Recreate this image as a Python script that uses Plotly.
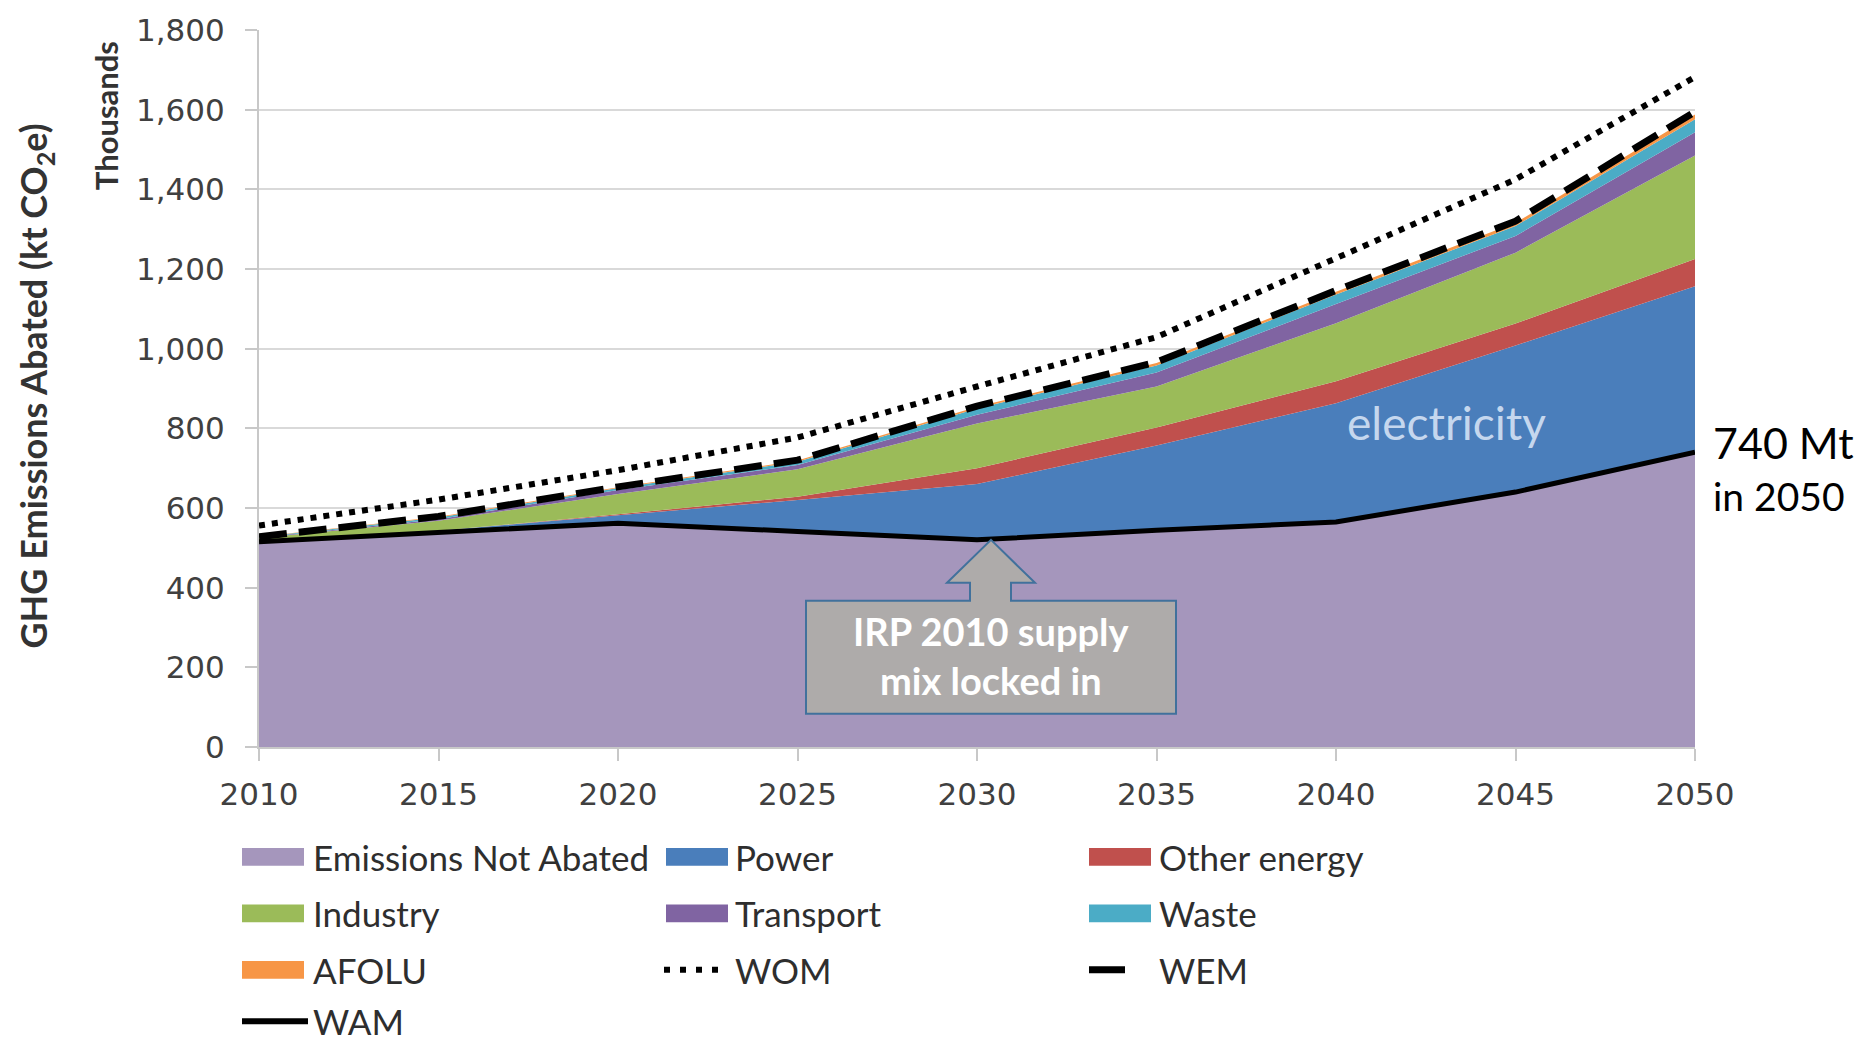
import plotly.graph_objects as go

# ---- data (kt CO2e, thousands) ----
years = [2010, 2015, 2020, 2025, 2030, 2035, 2040, 2045, 2050]

not_abated = [515, 540, 562, 541, 520, 544, 565, 640, 740]
power = [2, 3, 20, 79, 140, 213, 298, 368, 417]
other_energy = [0, 0, 2, 8, 40, 45, 55, 55, 68]
industry = [8, 25, 51, 69, 112, 103, 146, 178, 260]
transport = [1, 4, 10, 11, 22, 35, 48, 42, 58]
waste = [1, 4, 5, 8, 16, 18, 24, 25, 33]
afolu = [1, 2, 2, 3, 4, 6, 7, 8, 12]

wom = [556, 621, 695, 777, 905, 1029, 1227, 1425, 1682]
wem = [528, 579, 653, 720, 856, 966, 1146, 1320, 1595]
wam = not_abated

y_ticks = [0, 200, 400, 600, 800, 1000, 1200, 1400, 1600, 1800]
x_ticks = years

area_series = [
    ("Emissions Not Abated", not_abated, "#A596BC"),
    ("Power", power, "#4A7EBB"),
    ("Other energy", other_energy, "#C0504D"),
    ("Industry", industry, "#9BBB59"),
    ("Transport", transport, "#8064A2"),
    ("Waste", waste, "#4BACC6"),
    ("AFOLU", afolu, "#F79646"),
]

# plot-area geometry in pixels
W, H = 1866, 1043
PL, PR, PT, PB = 259, 1695, 23, 747


def px(x):
    return (x - PL) / (PR - PL)


def py(y):
    return (PB - y) / (PB - PT)


fig = go.Figure()

for name, vals, col in area_series:
    fig.add_trace(go.Scatter(
        x=years, y=vals, name=name, stackgroup="sectors", mode="lines",
        line=dict(width=0, color=col), fillcolor=col, showlegend=False,
    ))

fig.add_trace(go.Scatter(x=years, y=wam, name="WAM", mode="lines",
                         line=dict(color="black", width=5), showlegend=False))
fig.add_trace(go.Scatter(x=years, y=wem, name="WEM", mode="lines",
                         line=dict(color="black", width=7, dash="28px,12px"),
                         showlegend=False))
fig.add_trace(go.Scatter(x=years, y=wom, name="WOM", mode="lines",
                         line=dict(color="black", width=6, dash="6px,7px"),
                         showlegend=False))

shapes = []
annotations = []

# callout arrow + box pointing at the 2030 dip
callout_path = ("M 14 0 L 58 -43 L 34 -43 L 34 -61 L 199 -61 L 199 -174 "
                "L -171 -174 L -171 -61 L -7 -61 L -7 -43 L -30 -43 Z")
shapes.append(dict(
    type="path", xref="x", yref="y", xsizemode="pixel", ysizemode="pixel",
    xanchor=2030, yanchor=wam[years.index(2030)], path=callout_path,
    fillcolor="#AEABAA", line=dict(color="#41719C", width=2), layer="above",
))
annotations.append(dict(
    x=px(992), y=py(655), xref="paper", yref="paper",
    text="IRP 2010 supply<br>mix locked in", showarrow=False,
    font=dict(family="Lato", size=38, color="white", weight="bold"),
    xanchor="center", yanchor="middle",
))

annotations.append(dict(
    x=px(1446), y=py(419), xref="paper", yref="paper", text="electricity",
    showarrow=False, font=dict(family="Lato", size=46, color="#C5D7EE"),
    xanchor="center", yanchor="middle",
))
annotations.append(dict(
    x=px(1711), y=py(440), xref="paper", yref="paper", text="740 Mt",
    showarrow=False, font=dict(family="Lato", size=43, color="black"),
    xanchor="left", yanchor="middle",
))
annotations.append(dict(
    x=px(1711), y=py(494), xref="paper", yref="paper", text="in 2050",
    showarrow=False, font=dict(family="Lato", size=39, color="black"),
    xanchor="left", yanchor="middle",
))

# axis titles
annotations.append(dict(
    x=px(36), y=py(383), xref="paper", yref="paper",
    text="GHG Emissions Abated (kt CO<sub>2</sub>e)", textangle=-90,
    showarrow=False, font=dict(family="Lato", size=36, color="#333333", weight="bold"),
    xanchor="center", yanchor="middle",
))
annotations.append(dict(
    x=px(106), y=py(110), xref="paper", yref="paper", text="Thousands",
    textangle=-90, showarrow=False,
    font=dict(family="Lato", size=31, color="#333333", weight="bold"),
    xanchor="center", yanchor="middle",
))

# legend, laid out in three columns
legend_rows = [858, 915, 972, 1024]
legend_cols = [(242, 312), (666, 734), (1089, 1158)]
legend_items = [
    ("Emissions Not Abated", "box", "#A596BC"),
    ("Power", "box", "#4A7EBB"),
    ("Other energy", "box", "#C0504D"),
    ("Industry", "box", "#9BBB59"),
    ("Transport", "box", "#8064A2"),
    ("Waste", "box", "#4BACC6"),
    ("AFOLU", "box", "#F79646"),
    ("WOM", "dot", "black"),
    ("WEM", "dash", "black"),
    ("WAM", "solid", "black"),
]
for i, (label, kind, col) in enumerate(legend_items):
    r, c = divmod(i, 3)
    yc = legend_rows[r]
    sx, tx = legend_cols[c]
    if kind == "box":
        shapes.append(dict(type="rect", xref="paper", yref="paper",
                           x0=px(sx), x1=px(sx + 62), y0=py(yc + 9), y1=py(yc - 9),
                           fillcolor=col, line=dict(width=0)))
    elif kind == "dot":
        shapes.append(dict(type="line", xref="paper", yref="paper",
                           x0=px(sx - 2), x1=px(sx + 62), y0=py(yc), y1=py(yc),
                           line=dict(color=col, width=6, dash="6px,10px")))
    elif kind == "dash":
        shapes.append(dict(type="line", xref="paper", yref="paper",
                           x0=px(sx), x1=px(sx + 36), y0=py(yc), y1=py(yc),
                           line=dict(color=col, width=7)))
    else:
        shapes.append(dict(type="line", xref="paper", yref="paper",
                           x0=px(sx), x1=px(sx + 66), y0=py(yc), y1=py(yc),
                           line=dict(color=col, width=6)))
    annotations.append(dict(
        x=px(tx), y=py(yc), xref="paper", yref="paper", text=label,
        showarrow=False, font=dict(family="Lato", size=35, color="#2E2E2E"),
        xanchor="left", yanchor="middle", borderpad=0,
    ))

tick_font = dict(family="DejaVu Sans", size=31, color="#404040")

fig.update_layout(
    width=W, height=H,
    margin=dict(l=PL, r=W - PR, t=PT, b=H - PB),
    paper_bgcolor="white", plot_bgcolor="white",
    showlegend=False,
    shapes=shapes, annotations=annotations,
    xaxis=dict(
        range=[2010, 2050], tickvals=x_ticks, ticks="outside", ticklen=12,
        tickwidth=2, tickcolor="#C8C8C8", showline=True, linecolor="#C8C8C8",
        linewidth=2, showgrid=False, zeroline=False, tickfont=tick_font,
        ticklabelstandoff=7,
    ),
    yaxis=dict(
        range=[0, 1800], tickvals=y_ticks, tickformat=",", ticks="outside",
        ticklen=12, tickwidth=2, tickcolor="#C8C8C8", showline=True,
        linecolor="#C8C8C8", linewidth=2, showgrid=True, gridcolor="#D9D9D9",
        gridwidth=2, zeroline=False, tickfont=tick_font, ticklabelstandoff=14,
    ),
)

fig.write_html("out.html")
